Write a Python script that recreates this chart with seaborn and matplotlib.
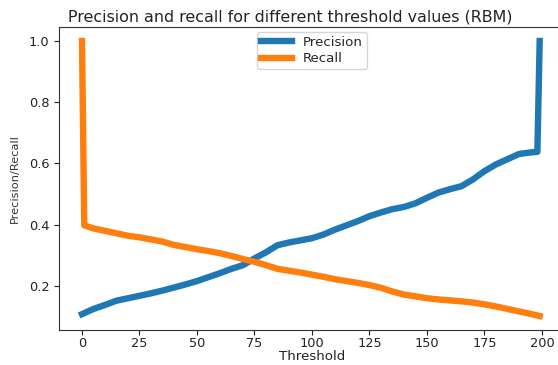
import matplotlib
matplotlib.use("Agg")
import matplotlib.pyplot as plt
import seaborn as sns
import pandas as pd

# Precision / recall readings over the threshold sweep
precision_threshold = [0, 5, 10, 15, 20, 25, 30, 35, 40, 45, 50, 55, 60, 65, 70,
                       75, 80, 85, 90, 95, 100, 105, 110, 115, 120, 125, 130,
                       135, 140, 145, 150, 155, 160, 165, 170, 175, 180, 185,
                       190, 195, 198, 199]
precision = [0.108, 0.125, 0.138, 0.152, 0.160, 0.168, 0.176, 0.185, 0.195,
             0.205, 0.216, 0.229, 0.242, 0.256, 0.268, 0.290, 0.310, 0.333,
             0.342, 0.349, 0.356, 0.368, 0.384, 0.398, 0.412, 0.428, 0.440,
             0.451, 0.458, 0.470, 0.488, 0.505, 0.516, 0.526, 0.548, 0.575,
             0.597, 0.614, 0.631, 0.636, 0.638, 1.0]

recall_threshold = [0, 1, 5, 10, 15, 20, 25, 30, 35, 40, 45, 50, 55, 60, 65, 70,
                    75, 80, 85, 90, 95, 100, 105, 110, 115, 120, 125, 130, 135,
                    140, 145, 150, 155, 160, 165, 170, 175, 180, 185, 190, 195,
                    199]
recall = [1.0, 0.398, 0.388, 0.380, 0.372, 0.364, 0.359, 0.352, 0.345, 0.334,
          0.327, 0.320, 0.314, 0.307, 0.298, 0.288, 0.279, 0.268, 0.256, 0.250,
          0.244, 0.237, 0.230, 0.222, 0.216, 0.210, 0.203, 0.194, 0.182, 0.172,
          0.166, 0.160, 0.156, 0.153, 0.150, 0.146, 0.140, 0.133, 0.125, 0.117,
          0.109, 0.102]

x_ticks = [0, 25, 50, 75, 100, 125, 150, 175, 200]
y_ticks = [0.2, 0.4, 0.6, 0.8, 1.0]

sns.set_style("ticks")
plt.rcParams["font.family"] = ["DejaVu Sans"]

prec_df = pd.DataFrame({"Threshold": precision_threshold, "value": precision})
rec_df = pd.DataFrame({"Threshold": recall_threshold, "value": recall})

fig = plt.figure(figsize=(5.58, 3.65), dpi=100)
ax = fig.add_axes([0.1057, 0.0948, 0.9068, 0.8307])

sns.lineplot(data=prec_df, x="Threshold", y="value", ax=ax, color="#1f77b4",
             linewidth=4.6, label="Precision")
sns.lineplot(data=rec_df, x="Threshold", y="value", ax=ax, color="#ff7f0e",
             linewidth=4.6, label="Recall")
for line in ax.get_lines():
    line.set_solid_capstyle("projecting")

ax.set_xlim(-10, 210)
ax.set_ylim(0.055, 1.045)
ax.set_xticks(x_ticks)
ax.set_yticks(y_ticks)
ax.set_yticklabels([f"{v:.1f}" for v in y_ticks])
ax.tick_params(labelsize=9.3, colors="#222222", length=3.5, width=0.8)
ax.tick_params(axis="x", pad=1.5)
for s in ax.spines.values():
    s.set_color("#333333")
    s.set_linewidth(0.8)

ax.set_title("Precision and recall for different threshold values (RBM)",
             fontsize=11.4, color="#222222", pad=4, x=0.4575)
ax.set_xlabel("Threshold", fontsize=9.6, color="#222222", labelpad=0)
ax.set_ylabel("Precision/Recall", fontsize=8.2, color="#333333", labelpad=6)

leg = ax.legend(loc="upper center", fontsize=9.6, frameon=True,
                labelspacing=0.25, borderpad=0.3, handlelength=2.3,
                borderaxespad=0.35)
for h in leg.get_lines():
    h.set_linewidth(4.6)

fig.savefig("out.png", dpi=100)
